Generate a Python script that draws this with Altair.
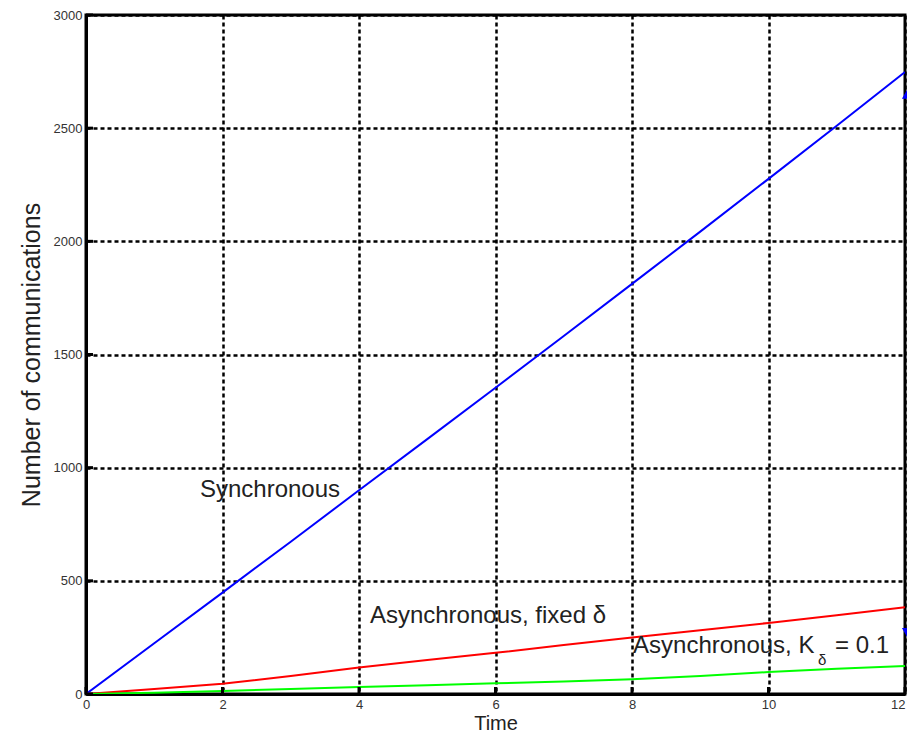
import altair as alt
import pandas as pd

# ---- data ----
time = [0, 1, 2, 3, 4, 5, 6, 7, 8, 9, 10, 11, 12]
synchronous = [0, 224, 448, 673, 900, 1126, 1353, 1582, 1812, 2043, 2276, 2511, 2748]
async_fixed = [0, 22, 45, 80, 117, 150, 182, 216, 250, 282, 314, 348, 383]
async_k = [0, 6, 13, 22, 31, 39, 47, 55, 65, 79, 97, 112, 124]

series_names = ["Synchronous", "Asynchronous, fixed δ", "Asynchronous, K_δ = 0.1"]
series_colors = ["#0000ff", "#ff0000", "#00ff00"]

x_ticks = [0, 2, 4, 6, 8, 10, 12]
y_ticks = [0, 500, 1000, 1500, 2000, 2500, 3000]

# arrow heads at the right edge (partly outside the figure)
tri_x = [12.16, 12.16]
tri_y = [2683, 238]
tri_shape = ["triangle-up", "triangle-down"]

# annotation labels
label_text = ["Synchronous", "Asynchronous, fixed δ", "Asynchronous, K", "= 0.1"]
label_x = [1.67, 4.16, 8.015, 10.975]
label_y = [872, 313, 181, 181]
sub_text = ["δ"]
sub_x = [10.725]
sub_y = [128]

# ---- build tables ----
rows = []
for name, vals in zip(series_names, [synchronous, async_fixed, async_k]):
    for t, v in zip(time, vals):
        rows.append({"t": t, "v": v, "series": name})
df = pd.DataFrame(rows)

W, H = 819, 679

xs = alt.Scale(domain=[0, 12], nice=False, zero=False)
ys = alt.Scale(domain=[0, 3000], nice=False)

base_x_axis = alt.Axis(values=x_ticks, title="Time", grid=True, ticks=False,
                       labelFlush=False, labelPadding=4, titlePadding=2,
                       labelAlign=alt.ExprRef("datum.value == 12 ? 'right' : 'center'"),
                       format="d")
base_y_axis = alt.Axis(values=y_ticks, title="Number of communications", grid=True,
                       ticks=False, labelFlush=False, labelPadding=4,
                       titlePadding=9, format="d")

lines = alt.Chart(df).mark_line(strokeWidth=2, clip=True).encode(
    x=alt.X("t:Q", scale=xs, axis=base_x_axis),
    y=alt.Y("v:Q", scale=ys, axis=base_y_axis),
    color=alt.Color("series:N", scale=alt.Scale(domain=series_names, range=series_colors), legend=None),
    order=alt.Order("t:Q"),
)

# inward tick marks (MATLAB style)
ytk = pd.DataFrame({"v": y_ticks})
xtk = pd.DataFrame({"t": x_ticks})
ytick_rules = alt.Chart(ytk).mark_rule(color="black", strokeWidth=3).encode(
    y=alt.Y("v:Q", scale=ys), x=alt.value(0), x2=alt.value(7)
)
xtick_rules = alt.Chart(xtk).mark_rule(color="black", strokeWidth=3).encode(
    x=alt.X("t:Q", scale=xs), y=alt.value(H), y2=alt.value(H - 7)
)

tri = alt.Chart(pd.DataFrame({"x": tri_x, "y": tri_y, "shape": tri_shape})).mark_point(
    filled=True, color="#0000ff", size=784, opacity=1, clip=False
).encode(
    x=alt.X("x:Q", scale=xs),
    y=alt.Y("y:Q", scale=ys),
    shape=alt.Shape("shape:N", scale=None, legend=None),
)

labels = alt.Chart(pd.DataFrame({"x": label_x, "y": label_y, "text": label_text})).mark_text(
    align="left", baseline="alphabetic", fontSize=24, font="Liberation Sans", color="#222222"
).encode(x=alt.X("x:Q", scale=xs), y=alt.Y("y:Q", scale=ys), text="text:N")

subs = alt.Chart(pd.DataFrame({"x": sub_x, "y": sub_y, "text": sub_text})).mark_text(
    align="left", baseline="alphabetic", fontSize=15, font="Liberation Sans", color="#222222"
).encode(x=alt.X("x:Q", scale=xs), y=alt.Y("y:Q", scale=ys), text="text:N")

chart = alt.layer(lines, ytick_rules, xtick_rules, labels, subs, tri).properties(
    width=W, height=H,
    autosize=alt.AutoSizeParams(type="none"),
    padding={"left": 78, "top": 7, "right": 2, "bottom": 39},
).configure_view(
    stroke="black", strokeWidth=3
).configure_axis(
    domain=True, domainColor="black", domainWidth=3,
    gridColor="black", gridDash=[4, 3], gridWidth=2.5, gridOpacity=1,
    labelFont="Liberation Sans", labelFontSize=13, labelColor="#333333",
    titleFont="Liberation Sans", titleColor="#222222", titleFontWeight="normal",
).configure_axisX(titleFontSize=20).configure_axisY(titleFontSize=25)

chart.save("out.html", embed_options={"renderer": "svg", "actions": False})
